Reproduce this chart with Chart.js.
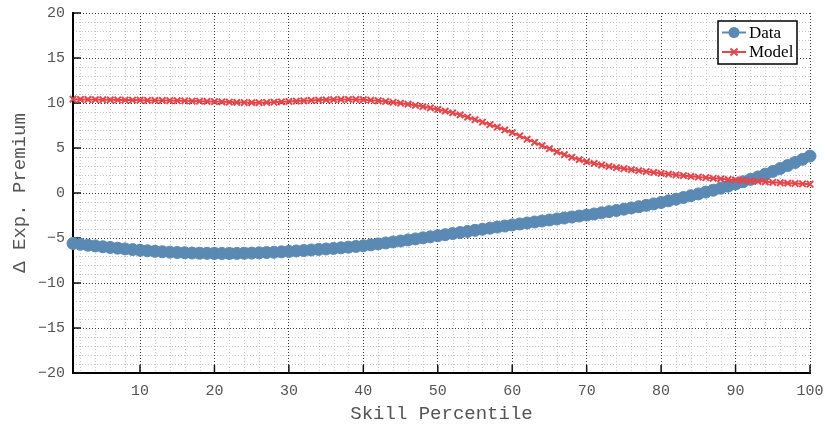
<!DOCTYPE html>
<html><head><meta charset="utf-8">
<script src="https://cdn.jsdelivr.net/npm/chart.js@4/dist/chart.umd.min.js"></script>
<style>html,body{margin:0;padding:0;background:#fff}</style>
</head><body>
<canvas id="c" width="825" height="425"></canvas>
<script>
const percentile = [1,2,3,4,5,6,7,8,9,10,11,12,13,14,15,16,17,18,19,20,21,22,23,24,25,26,27,28,29,30,31,32,33,34,35,36,37,38,39,40,41,42,43,44,45,46,47,48,49,50,51,52,53,54,55,56,57,58,59,60,61,62,63,64,65,66,67,68,69,70,71,72,73,74,75,76,77,78,79,80,81,82,83,84,85,86,87,88,89,90,91,92,93,94,95,96,97,98,99,100];
const dataValues = [-5.60,-5.70,-5.80,-5.88,-5.97,-6.05,-6.13,-6.21,-6.29,-6.36,
-6.42,-6.48,-6.53,-6.57,-6.61,-6.64,-6.67,-6.69,-6.70,-6.71,
-6.72,-6.72,-6.71,-6.70,-6.68,-6.65,-6.62,-6.58,-6.54,-6.49,
-6.44,-6.39,-6.33,-6.27,-6.22,-6.16,-6.09,-6.02,-5.94,-5.86,
-5.76,-5.66,-5.55,-5.44,-5.33,-5.21,-5.10,-4.98,-4.87,-4.75,
-4.63,-4.51,-4.39,-4.27,-4.15,-4.03,-3.91,-3.79,-3.67,-3.55,
-3.44,-3.33,-3.22,-3.11,-3.00,-2.89,-2.78,-2.67,-2.56,-2.45,
-2.33,-2.20,-2.07,-1.94,-1.80,-1.66,-1.52,-1.37,-1.21,-1.05,
-0.87,-0.69,-0.50,-0.30,-0.10,0.10,0.31,0.53,0.76,1.00,
1.25,1.51,1.79,2.09,2.40,2.72,3.05,3.39,3.74,4.10];
const modelValues = [10.42,10.40,10.39,10.37,10.36,10.35,10.34,10.33,10.32,10.31,
10.30,10.29,10.28,10.27,10.26,10.24,10.22,10.20,10.18,10.16,
10.13,10.10,10.07,10.05,10.04,10.04,10.06,10.09,10.13,10.17,
10.21,10.25,10.29,10.32,10.35,10.37,10.39,10.40,10.39,10.36,
10.31,10.25,10.17,10.08,9.98,9.87,9.74,9.60,9.45,9.28,
9.10,8.90,8.68,8.42,8.15,7.88,7.60,7.31,7.01,6.70,
6.34,5.98,5.62,5.26,4.92,4.58,4.26,3.97,3.71,3.48,
3.28,3.11,2.96,2.83,2.70,2.59,2.48,2.38,2.28,2.19,
2.10,2.01,1.93,1.85,1.77,1.70,1.63,1.57,1.51,1.45,
1.39,1.34,1.29,1.24,1.19,1.14,1.10,1.06,1.02,0.98];
const xTickValues = [10,20,30,40,50,60,70,80,90,100];
const yTickValues = [-20,-15,-10,-5,0,5,10,15,20];
const seriesNames = ['Data','Model'];
const xTitle = 'Skill Percentile';
const yTitle = '\u0394 Exp. Premium';

const BLUE = '#5a89b4';
const RED = '#e8454a';
const MONO = '"Liberation Mono", "DejaVu Sans Mono", monospace';
const SERIF = '"Liberation Serif", "DejaVu Serif", serif';

const decorPlugin = {
  id: 'decor',
  beforeDraw(chart) {
    const {ctx, chartArea: a, scales: {x, y}} = chart;
    ctx.save();
    ctx.strokeStyle = '#c9c9c9';
    ctx.lineWidth = 1;
    ctx.setLineDash([1, 2]);
    for (let v = 2; v <= 100; v += 2) {
      if (v % 10 === 0) continue;
      const px = Math.round(x.getPixelForValue(v)) + 0.5;
      ctx.beginPath(); ctx.moveTo(px, a.top); ctx.lineTo(px, a.bottom); ctx.stroke();
    }
    for (let v = -19; v <= 19; v++) {
      if (v % 5 === 0) continue;
      const py = Math.round(y.getPixelForValue(v)) + 0.5;
      ctx.beginPath(); ctx.moveTo(a.left, py); ctx.lineTo(a.right, py); ctx.stroke();
    }
    ctx.restore();
  },
  beforeDatasetsDraw(chart) {
    const {ctx, chartArea: a, scales: {x, y}} = chart;
    ctx.save();
    ctx.strokeStyle = '#111';
    ctx.lineWidth = 1.5;
    ctx.setLineDash([]);
    xTickValues.forEach(v => {
      const px = x.getPixelForValue(v);
      ctx.beginPath(); ctx.moveTo(px, a.bottom); ctx.lineTo(px, a.bottom - 8); ctx.stroke();
    });
    yTickValues.forEach(v => {
      const py = y.getPixelForValue(v);
      ctx.beginPath(); ctx.moveTo(a.left, py); ctx.lineTo(a.left + 8, py); ctx.stroke();
    });
    ctx.restore();
  },
  afterDraw(chart) {
    const {ctx, chartArea: a} = chart;
    const w = 79, h = 43;
    const left = a.right - 13 - w, top = a.top + 8;
    ctx.save();
    ctx.fillStyle = '#fff';
    ctx.fillRect(left, top, w, h);
    ctx.strokeStyle = '#000';
    ctx.lineWidth = 1.5;
    ctx.strokeRect(left, top, w, h);
    const rows = [
      {name: seriesNames[0], color: BLUE, marker: 'circle', y: top + 11.5},
      {name: seriesNames[1], color: RED, marker: 'x', y: top + 31}
    ];
    ctx.font = '17px ' + SERIF;
    ctx.textBaseline = 'middle';
    ctx.textAlign = 'left';
    rows.forEach(r => {
      ctx.strokeStyle = r.color;
      ctx.lineWidth = 2;
      ctx.beginPath(); ctx.moveTo(left + 4, r.y); ctx.lineTo(left + 28, r.y); ctx.stroke();
      const cx = left + 16;
      if (r.marker === 'circle') {
        ctx.fillStyle = r.color;
        ctx.beginPath(); ctx.arc(cx, r.y, 5.5, 0, Math.PI * 2); ctx.fill();
      } else {
        ctx.lineWidth = 2;
        ctx.beginPath();
        ctx.moveTo(cx - 3.5, r.y - 3.5); ctx.lineTo(cx + 3.5, r.y + 3.5);
        ctx.moveTo(cx - 3.5, r.y + 3.5); ctx.lineTo(cx + 3.5, r.y - 3.5);
        ctx.stroke();
      }
      ctx.fillStyle = '#000';
      ctx.fillText(r.name, left + 31, r.y + 1);
    });
    ctx.restore();
  }
};

new Chart(document.getElementById('c'), {
  type: 'line',
  data: {
    datasets: [
      {
        label: seriesNames[0],
        data: percentile.map((p, i) => ({x: p, y: dataValues[i]})),
        borderColor: BLUE, backgroundColor: BLUE,
        borderWidth: 2, pointRadius: 6, pointBorderWidth: 1,
        pointStyle: 'circle', pointBackgroundColor: BLUE, pointBorderColor: BLUE,
        tension: 0, clip: false, order: 2
      },
      {
        label: seriesNames[1],
        data: percentile.map((p, i) => ({x: p, y: modelValues[i]})),
        borderColor: RED, backgroundColor: RED,
        borderWidth: 2, pointRadius: 4.5, pointBorderWidth: 2,
        pointStyle: 'crossRot', pointBorderColor: RED,
        tension: 0, clip: false, order: 1
      }
    ]
  },
  options: {
    responsive: false,
    animation: false,
    events: [],
    layout: {padding: {top: 13, right: 15, left: 0, bottom: 0}},
    plugins: {legend: {display: false}, tooltip: {enabled: false}},
    scales: {
      x: {
        type: 'linear', min: 1, max: 100,
        afterBuildTicks: ax => { ax.ticks = xTickValues.map(v => ({value: v})); },
        afterFit: s => { s.height = 52; s.paddingLeft = 0; s.paddingRight = 0; },
        grid: {color: '#3a3a3a', lineWidth: 1, drawTicks: false},
        border: {display: true, color: '#000', width: 2, dash: [1, 2]},
        ticks: {font: {family: MONO, size: 15}, color: '#555', padding: 9, maxRotation: 0, autoSkip: false},
        title: {display: true, text: xTitle, font: {family: MONO, size: 19}, color: '#555', padding: {top: 0, bottom: 0}}
      },
      y: {
        type: 'linear', min: -20, max: 20,
        afterBuildTicks: ax => { ax.ticks = yTickValues.map(v => ({value: v})); },
        afterFit: s => { s.width = 73; s.paddingTop = 0; s.paddingBottom = 0; },
        grid: {color: '#3a3a3a', lineWidth: 1, drawTicks: false},
        border: {display: true, color: '#000', width: 2, dash: [1, 2]},
        ticks: {font: {family: MONO, size: 15}, color: '#555', padding: 8,
          callback: v => String(v).replace('-', '\u2212')},
        title: {display: true, text: yTitle, font: {family: MONO, size: 19}, color: '#555', padding: {top: 9, bottom: 0}}
      }
    }
  },
  plugins: [decorPlugin]
});
</script>
</body></html>
